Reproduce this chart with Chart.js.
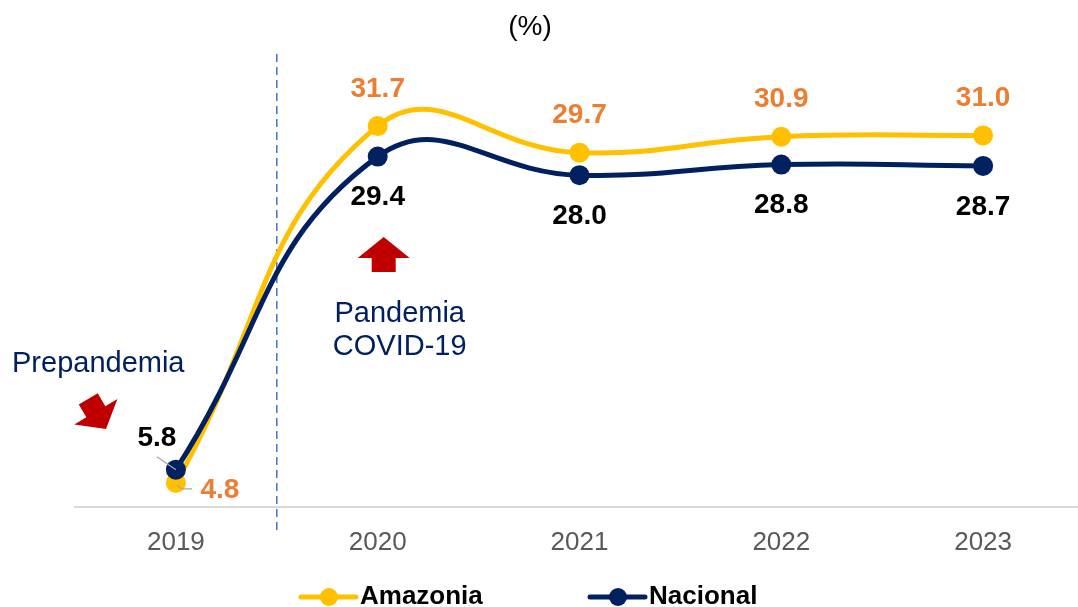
<!DOCTYPE html>
<html lang="es">
<head>
<meta charset="UTF-8">
<title>Amazonia vs Nacional</title>
<script src="https://cdn.jsdelivr.net/npm/chart.js@4"></script>
<style>
  body { margin: 0; background: #fff; overflow: hidden; }
  .wrap { width: 1094px; height: 607px; position: relative; }
</style>
</head>
<body>
<div class="wrap"><canvas id="chart"></canvas></div>
<script>
// data
const years = ['2019', '2020', '2021', '2022', '2023'];
const amazonia = [4.8, 31.7, 29.7, 30.9, 31.0];
const nacional = [5.8, 29.4, 28.0, 28.8, 28.7];

const FONT = '"Liberation Sans", Arial, sans-serif';
const YELLOW = '#FFC000';
const NAVY = '#002060';
const ORANGE = '#ED7D31';
const RED = '#C00000';

function arrow(ctx, tipX, tipY, angle, len, shaftW, headW, headL) {
    // arrow pointing in direction angle (radians), tip at (tipX, tipY)
    ctx.save();
    ctx.translate(tipX, tipY);
    ctx.rotate(angle);
    ctx.beginPath();
    ctx.moveTo(0, 0);
    ctx.lineTo(-headL, -headW / 2);
    ctx.lineTo(-headL, -shaftW / 2);
    ctx.lineTo(-len, -shaftW / 2);
    ctx.lineTo(-len, shaftW / 2);
    ctx.lineTo(-headL, shaftW / 2);
    ctx.lineTo(-headL, headW / 2);
    ctx.closePath();
    ctx.fillStyle = RED;
    ctx.fill();
    ctx.restore();
}

const decorations = {
    id: 'decorations',
    beforeDatasetsDraw(chart) {
        const ctx = chart.ctx;
        const x = chart.scales.x;
        // dashed divider between 2019 and 2020
        const dx = x.getPixelForValue(0.5);
        ctx.save();
        ctx.strokeStyle = '#4472C4';
        ctx.lineWidth = 1.5;
        ctx.setLineDash([8, 5]);
        ctx.beginPath();
        ctx.moveTo(dx, 54);
        ctx.lineTo(dx, 531);
        ctx.stroke();
        ctx.restore();
    },
    afterDatasetsDraw(chart) {
        const ctx = chart.ctx;
        const x = chart.scales.x;
        const nac = chart.getDatasetMeta(0).data;
        const ama = chart.getDatasetMeta(1).data;

        ctx.save();
        // leader lines for 2019
        ctx.strokeStyle = '#A6A6A6';
        ctx.lineWidth = 1.2;
        ctx.beginPath();
        ctx.moveTo(nac[0].x - 19, nac[0].y - 13);
        ctx.lineTo(nac[0].x, nac[0].y);
        ctx.moveTo(ama[0].x + 1, ama[0].y + 2);
        ctx.lineTo(ama[0].x + 6, ama[0].y + 6);
        ctx.lineTo(ama[0].x + 16, ama[0].y + 6);
        ctx.stroke();

        // value labels
        ctx.font = 'bold 28px ' + FONT;
        ctx.textAlign = 'center';
        ctx.textBaseline = 'middle';
        ama.forEach((p, i) => {
            ctx.fillStyle = ORANGE;
            const t = amazonia[i].toFixed(1);
            if (i === 0) ctx.fillText(t, p.x + 44, p.y + 7);
            else ctx.fillText(t, p.x, p.y - 37);
        });
        nac.forEach((p, i) => {
            ctx.fillStyle = '#000';
            const t = nacional[i].toFixed(1);
            if (i === 0) ctx.fillText(t, p.x - 19, p.y - 31);
            else ctx.fillText(t, p.x, p.y + 41);
        });

        // title
        ctx.font = '28px ' + FONT;
        ctx.fillStyle = '#000';
        ctx.fillText('(%)', 530, 27);

        // annotations
        ctx.font = '29px ' + FONT;
        ctx.fillStyle = NAVY;
        ctx.textAlign = 'left';
        ctx.fillText('Prepandemia', 12, 364);
        ctx.textAlign = 'center';
        const px = x.getPixelForValue(1) + 22;
        ctx.fillText('Pandemia', px, 314);
        ctx.fillText('COVID-19', px, 347);

        arrow(ctx, x.getPixelForValue(1) + 6, 237, -Math.PI / 2, 35, 24, 52, 21);
        arrow(ctx, 106, 429, Math.atan2(17, 10), 35, 22, 50, 20);

        // legend
        const ly = 597;
        const items = [
            { label: 'Amazonia', color: YELLOW, x0: 301 },
            { label: 'Nacional', color: NAVY, x0: 590 }
        ];
        items.forEach(it => {
            ctx.strokeStyle = it.color;
            ctx.lineWidth = 5;
            ctx.lineCap = 'round';
            ctx.beginPath();
            ctx.moveTo(it.x0, ly);
            ctx.lineTo(it.x0 + 55, ly);
            ctx.stroke();
            ctx.fillStyle = it.color;
            ctx.beginPath();
            ctx.arc(it.x0 + 28, ly, 9, 0, Math.PI * 2);
            ctx.fill();
            ctx.fillStyle = '#000';
            ctx.font = 'bold 26px ' + FONT;
            ctx.textAlign = 'left';
            ctx.fillText(it.label, it.x0 + 59, ly);
        });
        ctx.restore();
    }
};

new Chart(document.getElementById('chart'), {
    type: 'line',
    data: {
        labels: years,
        datasets: [
            {
                label: 'Nacional',
                data: nacional,
                borderColor: NAVY,
                backgroundColor: NAVY,
                borderWidth: 5,
                pointRadius: 10,
                pointBorderWidth: 0,
                tension: 0.45,
                clip: false
            },
            {
                label: 'Amazonia',
                data: amazonia,
                borderColor: YELLOW,
                backgroundColor: YELLOW,
                borderWidth: 5,
                pointRadius: 10,
                pointBorderWidth: 0,
                tension: 0.45,
                clip: false
            }
        ]
    },
    options: {
        responsive: true,
        maintainAspectRatio: false,
        animation: false,
        layout: { padding: { top: 16, left: 75, right: 0, bottom: 29 } },
        plugins: {
            legend: { display: false },
            tooltip: { enabled: false }
        },
        scales: {
            y: {
                display: false,
                min: 3,
                max: 40
            },
            x: {
                offset: true,
                grid: { display: false, drawTicks: false, offset: true },
                border: { display: true, color: '#D9D9D9', width: 2 },
                ticks: {
                    padding: 20,
                    color: '#595959',
                    font: { family: FONT, size: 26 }
                }
            }
        }
    },
    plugins: [decorations]
});
</script>
</body>
</html>
